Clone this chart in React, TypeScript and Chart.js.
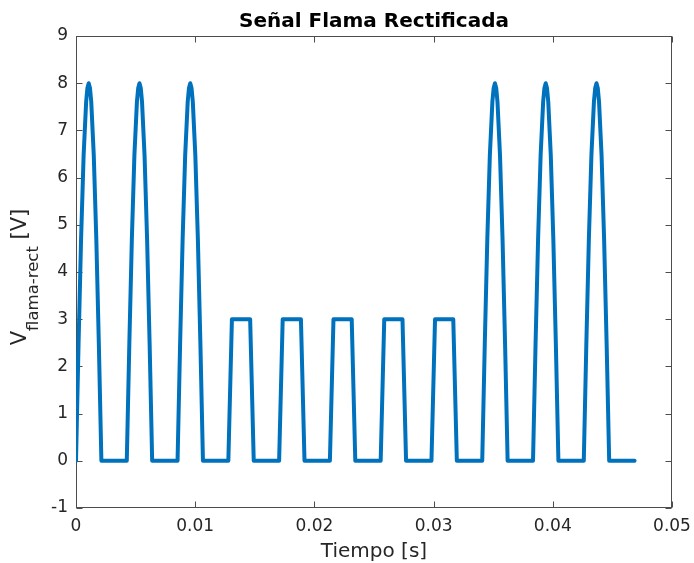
import React, { useEffect, useRef } from "react";
import { Chart, registerables } from "chart.js";

Chart.register(...registerables);

// ---- Data ----
const tiempo: number[] = [
  // pulso senoidal 1
  0, 0.000213, 0.000426, 0.000639, 0.000852, 0.000959, 0.001065, 0.001172, 0.001278, 0.001491, 0.001704, 0.001917, 0.00213,
  // pulso senoidal 2
  0.00426, 0.004473, 0.004686, 0.004899, 0.005112, 0.005219, 0.005325, 0.005432, 0.005538, 0.005751, 0.005964, 0.006177, 0.00639,
  // pulso senoidal 3
  0.00852, 0.008733, 0.008946, 0.009159, 0.009372, 0.009479, 0.009585, 0.009692, 0.009798, 0.010011, 0.010224, 0.010437, 0.01065,
  // pulsos cuadrados
  0.01278, 0.01308, 0.01461, 0.01491,
  0.01704, 0.01734, 0.01887, 0.01917,
  0.0213, 0.0216, 0.02313, 0.02343,
  0.02556, 0.02586, 0.02739, 0.02769,
  0.02982, 0.03012, 0.03165, 0.03195,
  // pulso senoidal 4
  0.03408, 0.034293, 0.034506, 0.034719, 0.034932, 0.035039, 0.035145, 0.035252, 0.035358, 0.035571, 0.035784, 0.035997, 0.03621,
  // pulso senoidal 5
  0.03834, 0.038553, 0.038766, 0.038979, 0.039192, 0.039299, 0.039405, 0.039512, 0.039618, 0.039831, 0.040044, 0.040257, 0.04047,
  // pulso senoidal 6
  0.0426, 0.042813, 0.043026, 0.043239, 0.043452, 0.043559, 0.043665, 0.043772, 0.043878, 0.044091, 0.044304, 0.044517, 0.04473,
  // final
  0.04686,
];

const voltaje: number[] = [
  0, 2.47, 4.7, 6.47, 7.61, 7.9, 8.0, 7.9, 7.61, 6.47, 4.7, 2.47, 0,
  0, 2.47, 4.7, 6.47, 7.61, 7.9, 8.0, 7.9, 7.61, 6.47, 4.7, 2.47, 0,
  0, 2.47, 4.7, 6.47, 7.61, 7.9, 8.0, 7.9, 7.61, 6.47, 4.7, 2.47, 0,
  0, 3, 3, 0,
  0, 3, 3, 0,
  0, 3, 3, 0,
  0, 3, 3, 0,
  0, 3, 3, 0,
  0, 2.47, 4.7, 6.47, 7.61, 7.9, 8.0, 7.9, 7.61, 6.47, 4.7, 2.47, 0,
  0, 2.47, 4.7, 6.47, 7.61, 7.9, 8.0, 7.9, 7.61, 6.47, 4.7, 2.47, 0,
  0, 2.47, 4.7, 6.47, 7.61, 7.9, 8.0, 7.9, 7.61, 6.47, 4.7, 2.47, 0,
  0,
];

const xTicks: number[] = [0, 0.01, 0.02, 0.03, 0.04, 0.05];
const xTickLabels: string[] = ["0", "0.01", "0.02", "0.03", "0.04", "0.05"];
const yTicks: number[] = [-1, 0, 1, 2, 3, 4, 5, 6, 7, 8, 9];
const yTickLabels: string[] = ["-1", "0", "1", "2", "3", "4", "5", "6", "7", "8", "9"];

const titulo = "Señal Flama Rectificada";
const xTitulo = "Tiempo [s]";
const yTituloMain = "V";
const yTituloSub = "flama-rect";
const yTituloUnit = " [V]";

// ---- Styles ----
const FONT = "'DejaVu Sans', sans-serif";
const AXIS_COLOR = "#262626";
const BOX_COLOR = "#4d4d4d";
const LINE_COLOR = "#0072BD";

const matlabPlugin = {
  id: "matlabAxes",
  beforeDatasetsDraw(chart: any) {
    const { ctx, chartArea: a, scales } = chart;
    const xs = scales.x;
    const ys = scales.y;
    ctx.save();
    ctx.strokeStyle = BOX_COLOR;
    ctx.lineWidth = 1;
    const L = Math.round(a.left) + 0.5;
    const R = Math.round(a.right) - 0.5;
    const T = Math.round(a.top) + 0.5;
    const B = Math.round(a.bottom) - 0.5;
    ctx.strokeRect(L, T, R - L, B - T);
    ctx.beginPath();
    const tl = 6;
    xTicks.forEach((v) => {
      const px = Math.round(xs.getPixelForValue(v)) + 0.5;
      ctx.moveTo(px, B);
      ctx.lineTo(px, B - tl);
      ctx.moveTo(px, T);
      ctx.lineTo(px, T + tl);
    });
    yTicks.forEach((v) => {
      const py = Math.round(ys.getPixelForValue(v)) + 0.5;
      ctx.moveTo(L, py);
      ctx.lineTo(L + tl, py);
      ctx.moveTo(R, py);
      ctx.lineTo(R - tl, py);
    });
    ctx.stroke();
    ctx.restore();
  },
  afterDraw(chart: any) {
    const { ctx, chartArea: a } = chart;
    const cx = (a.left + a.right) / 2;
    ctx.save();
    ctx.fillStyle = "#000000";
    ctx.textAlign = "center";
    ctx.textBaseline = "alphabetic";
    ctx.font = `bold 20px ${FONT}`;
    ctx.fillText(titulo, cx, 27);

    ctx.fillStyle = AXIS_COLOR;
    ctx.font = `20px ${FONT}`;
    ctx.fillText(xTitulo, cx, 557);

    // y label with subscript
    const mainFont = `21px ${FONT}`;
    const subFont = `16.5px ${FONT}`;
    ctx.font = mainFont;
    const wMain = ctx.measureText(yTituloMain).width;
    const wUnit = ctx.measureText(yTituloUnit).width;
    ctx.font = subFont;
    const wSub = ctx.measureText(yTituloSub).width;
    const total = wMain + wSub + wUnit;
    ctx.translate(26, 277);
    ctx.rotate(-Math.PI / 2);
    ctx.textAlign = "left";
    let x0 = -total / 2;
    ctx.font = mainFont;
    ctx.fillText(yTituloMain, x0, 0);
    x0 += wMain;
    ctx.font = subFont;
    ctx.fillText(yTituloSub, x0, 12);
    x0 += wSub;
    ctx.font = mainFont;
    ctx.fillText(yTituloUnit, x0, 0);
    ctx.restore();
  },
};

export default function App() {
  const ref = useRef<HTMLCanvasElement | null>(null);

  useEffect(() => {
    if (!ref.current) return;
    const points = tiempo.map((t, i) => ({ x: t, y: voltaje[i] }));
    const chart = new Chart(ref.current, {
      type: "line",
      data: {
        datasets: [
          {
            data: points,
            borderColor: LINE_COLOR,
            backgroundColor: LINE_COLOR,
            borderWidth: 4,
            pointRadius: 0,
            tension: 0,
            fill: false,
            borderJoinStyle: "round",
            borderCapStyle: "round",
          },
        ],
      },
      options: {
        responsive: false,
        animation: false,
        devicePixelRatio: 1,
        parsing: false as any,
        layout: { padding: { left: 0, right: 22, top: 36, bottom: 0 } },
        plugins: {
          legend: { display: false },
          title: { display: false },
          tooltip: { enabled: false },
        },
        scales: {
          x: {
            type: "linear",
            min: 0,
            max: 0.05,
            grid: { display: false, drawTicks: false, tickLength: 0 },
            border: { display: false },
            afterBuildTicks: (s: any) => {
              s.ticks = xTicks.map((v) => ({ value: v }));
            },
            afterFit: (s: any) => {
              s.height = 55;
              s.paddingLeft = 0;
              s.paddingRight = 0;
            },
            ticks: {
              autoSkip: false,
              maxRotation: 0,
              padding: 8,
              color: AXIS_COLOR,
              font: { family: FONT, size: 17 },
              callback: (_v: any, i: number) => xTickLabels[i],
            },
          },
          y: {
            type: "linear",
            min: -1,
            max: 9,
            grid: { display: false, drawTicks: false, tickLength: 0 },
            border: { display: false },
            afterBuildTicks: (s: any) => {
              s.ticks = yTicks.map((v) => ({ value: v }));
            },
            afterFit: (s: any) => {
              s.width = 76;
              s.paddingTop = 0;
              s.paddingBottom = 0;
            },
            ticks: {
              autoSkip: false,
              padding: 8,
              color: AXIS_COLOR,
              font: { family: FONT, size: 17 },
              callback: (_v: any, i: number) => yTickLabels[i],
            },
          },
        },
      },
      plugins: [matlabPlugin],
    });
    return () => chart.destroy();
  }, []);

  return (
    <div style={{ position: "fixed", left: 0, top: 0, width: 694, height: 563, background: "#ffffff" }}>
      <canvas ref={ref} width={694} height={563} style={{ display: "block" }} />
    </div>
  );
}
